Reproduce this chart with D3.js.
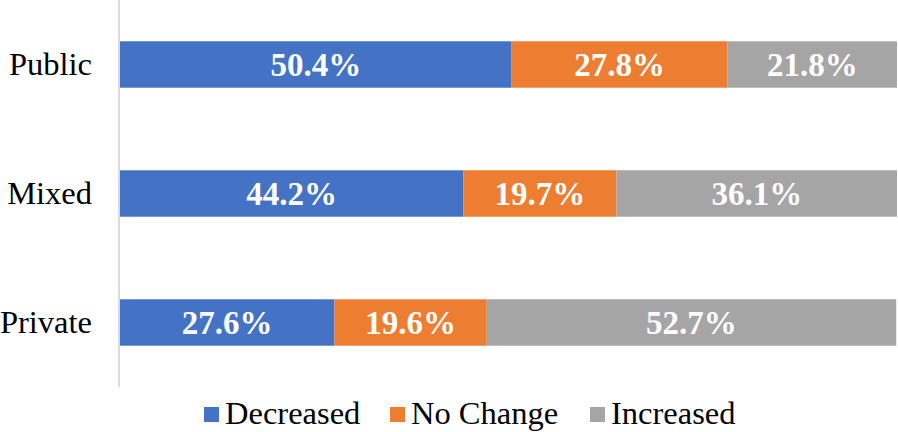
<!DOCTYPE html>
<html><head><meta charset="utf-8">
<script src="https://cdn.jsdelivr.net/npm/d3@7"></script>
<style>body{margin:0;background:#fff}svg{display:block}</style>
</head><body>
<script>
const categories = ["Public", "Mixed", "Private"];
const seriesNames = ["Decreased", "No Change", "Increased"];
const decreased = [50.4, 44.2, 27.6];
const noChange = [27.8, 19.7, 19.6];
const increased = [21.8, 36.1, 52.7];
const colors = ["#4472C4", "#ED7D31", "#A5A5A5"];

const W = 898, H = 432;
const svg = d3.select("body").append("svg").attr("width", W).attr("height", H);
const font = "'Liberation Serif','Times New Roman',serif";

const x = d3.scaleLinear().domain([0, 100]).range([120, 897]);
const y = d3.scaleBand().domain(categories).range([0, 387]).paddingInner(0.64).paddingOuter(0.32);

const rows = categories.map((c, i) => ({cat: c, Decreased: decreased[i], "No Change": noChange[i], Increased: increased[i]}));
const stack = d3.stack().keys(seriesNames)(rows);

const g = svg.append("g");
stack.forEach((layer, li) => {
  const lg = g.append("g");
  lg.selectAll("rect").data(layer).join("rect")
    .attr("x", d => x(d[0])).attr("width", d => x(d[1]) - x(d[0]))
    .attr("y", d => y(d.data.cat)).attr("height", y.bandwidth())
    .attr("fill", colors[li]);
  lg.selectAll("text").data(layer).join("text")
    .attr("x", d => (x(d[0]) + x(d[1])) / 2)
    .attr("y", d => y(d.data.cat) + y.bandwidth() / 2 + 11)
    .attr("text-anchor", "middle")
    .attr("font-family", font).attr("font-weight", "bold").attr("font-size", 33)
    .attr("fill", "#fff")
    .text(d => (d[1] - d[0]).toFixed(1) + "%");
});

// vertical axis line
svg.append("line").attr("x1", 119).attr("x2", 119).attr("y1", 0).attr("y2", 387)
  .attr("stroke", "#d9d9d9").attr("stroke-width", 2);

// category labels
svg.selectAll("text.cat").data(categories).join("text").attr("class", "cat")
  .attr("x", 92).attr("y", d => y(d) + y.bandwidth() / 2 + 10)
  .attr("text-anchor", "end").attr("font-family", font).attr("font-size", 32.5)
  .attr("fill", "#000").text(d => d);

// legend
const legendX = [204, 390, 590];
const lg = svg.append("g");
seriesNames.forEach((s, i) => {
  lg.append("rect").attr("x", legendX[i]).attr("y", 407).attr("width", 15).attr("height", 15).attr("fill", colors[i]);
  lg.append("text").attr("x", legendX[i] + 21).attr("y", 424)
    .attr("font-family", font).attr("font-size", 32.5).attr("fill", "#000").text(s);
});
</script>
</body></html>
